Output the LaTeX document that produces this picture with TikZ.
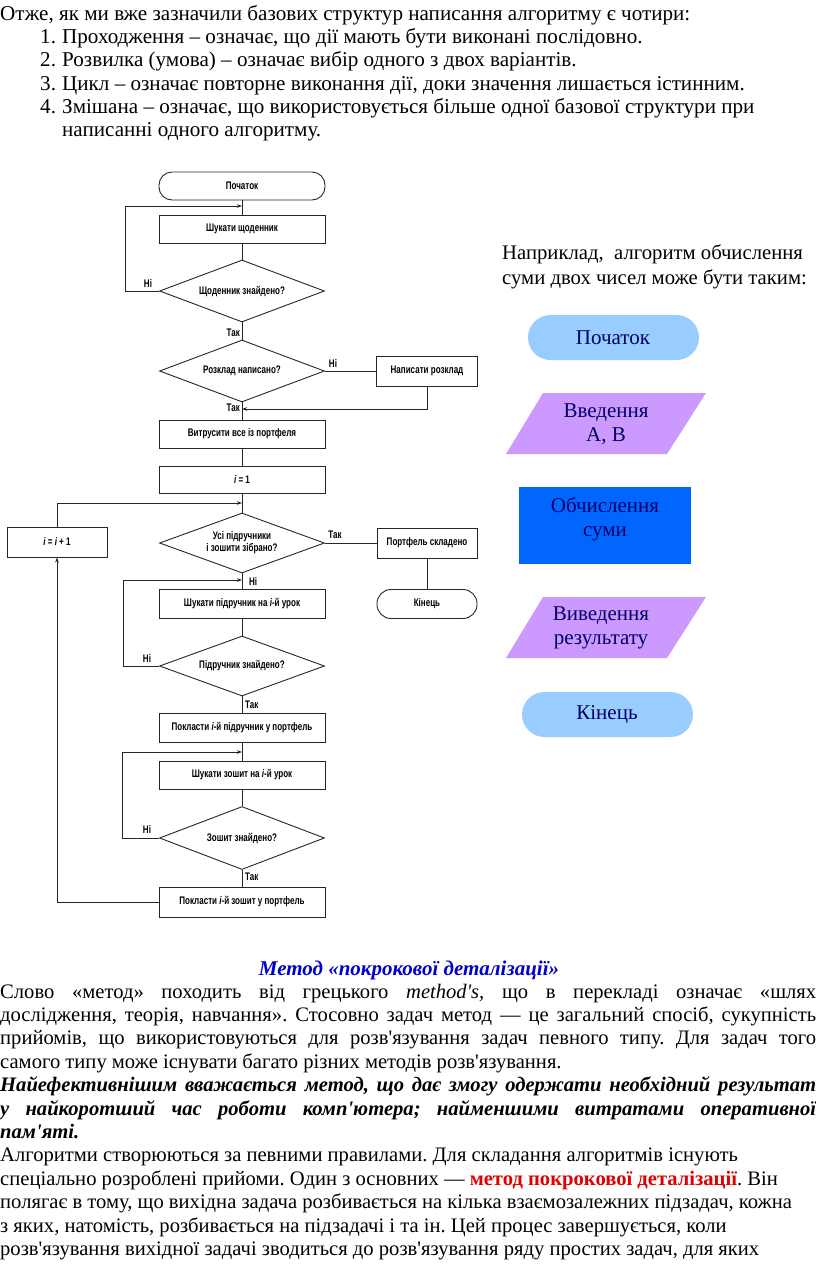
\documentclass[tikz,border=0pt]{standalone}
\usepackage{fontspec}
\setmainfont{Liberation Serif}[Ligatures=TeXOff]
\newfontfamily\fcf[FakeStretch=0.73]{Liberation Sans}
\usetikzlibrary{shapes.geometric,arrows.meta}
\definecolor{pill}{HTML}{99CCFF}
\definecolor{lilac}{HTML}{CC99FF}
\definecolor{bluebox}{HTML}{0066FF}
\definecolor{navy}{HTML}{000066}
\definecolor{titleblue}{HTML}{0000CC}
\definecolor{redtxt}{HTML}{E00000}
\frenchspacing
\tikzset{
  fc/.style={font=\fcf\bfseries\fontsize{11}{12}\selectfont},
  proc/.style={fc, draw=black!85, rectangle, minimum width=166pt, minimum height=28pt, inner sep=1pt, line width=0.9pt},
  term/.style={proc, rounded corners=13pt},
  dec/.style={fc, draw=black!85, diamond, aspect=2.66, minimum width=165pt, minimum height=62pt, inner sep=0pt, align=center, line width=0.9pt},
  ln/.style={line width=0.9pt, draw=black!85},
  arr/.style={ln, -{Stealth[length=5pt,width=3.5pt]}},
  lab/.style={fc, inner sep=1pt},
  body/.style={font=\fontsize{20.6}{23.3}\selectfont, anchor=base west, inner sep=0pt},
  topt/.style={font=\fontsize{21.1}{23.3}\selectfont, anchor=base west, inner sep=0pt},
  rtxt/.style={font=\fontsize{21}{24.5}\selectfont, text=navy, align=center, inner sep=0pt},
}
\begin{document}
\begin{tikzpicture}[x=1pt,y=-1pt]
\useasboundingbox (0,0) rectangle (816,1270);
\fill[white] (0,0) rectangle (816,1270);

% ---------- top text ----------
\node[topt] (h0) at (0,20) {Отже, як ми вже зазначили базових структур написання алгоритму є чотири:};
\node[topt] (n1) at (40,43.3) {1.};
\node[topt] (l1) at (62,43.3) {Проходження – означає, що дії мають бути виконані послідовно.};
\node[topt] (n2) at (40,66.6) {2.};
\node[topt] (l2) at (62,66.6) {Розвилка (умова) – означає вибір одного з двох варіантів.};
\node[topt] (n3) at (40,90) {3.};
\node[topt] (l3) at (62,90) {Цикл – означає повторне виконання дії, доки значення лишається істинним.};
\node[topt] (n4) at (40,113.3) {4.};
\node[topt] (l4) at (62,113.3) {Змішана – означає, що використовується більше одної базової структури при};
\node[topt] (l5) at (62,136.6) {написанні одного алгоритму.};

% ---------- left flowchart ----------
\node[term] (start) at (242,186) {Початок};
\node[proc] (s1) at (242,229) {Шукати щоденник};
\node[dec] (d1) at (242,291) {Щоденник знайдено?};
\node[dec] (d2) at (242,371) {Розклад написано?};
\node[proc, minimum width=101pt, minimum height=30pt] (wr) at (427,371) {Написати розклад};
\node[proc] (empty) at (242,434) {Витрусити все із портфеля};
\node[proc, minimum height=27pt] (i1) at (242,480) {{\itshape i} = 1};
\node[proc, minimum width=100pt, minimum height=30pt] (inc) at (57,542) {{\itshape i} = {\itshape i} + 1};
\node[dec, minimum height=60pt] (d3) at (242,543) {Усі підручники\\і зошити зібрано?};
\node[proc, minimum width=100pt, minimum height=30pt] (port) at (427,543) {Портфель складено};
\node[term, minimum width=100pt, minimum height=29pt, rounded corners=14pt] (fin) at (427,604) {Кінець};
\node[proc, minimum height=29pt] (s2) at (242,604) {Шукати підручник на {\itshape i}-й урок};
\node[dec, minimum height=60pt] (d4) at (242,666) {Підручник знайдено?};
\node[proc, minimum height=29pt] (put1) at (242,728) {Покласти {\itshape i}-й підручник у портфель};
\node[proc] (s3) at (242,775) {Шукати зошит на {\itshape i}-й урок};
\node[dec, minimum height=63pt] (d5) at (242,838) {Зошит знайдено?};
\node[proc, minimum height=30pt] (put2) at (242,902) {Покласти {\itshape i}-й зошит у портфель};

\coordinate (j1) at (242,206);
\coordinate (j2) at (242,409);
\coordinate (j3) at (242,503);
\coordinate (j4) at (242,580);
\coordinate (j5) at (242,752);
\coordinate (c1) at (125,291);
\coordinate (c4) at (123,666);
\coordinate (c5) at (122,838);

\draw[ln] (start) -- (s1);
\draw[ln] (s1) -- (d1);
\draw[ln] (d1) -- (d2);
\draw[ln] (d2) -- (empty);
\draw[ln] (empty) -- (i1);
\draw[ln] (i1) -- (d3);
\draw[ln] (d3) -- (s2);
\draw[ln] (s2) -- (d4);
\draw[ln] (d4) -- (put1);
\draw[ln] (put1) -- (s3);
\draw[ln] (s3) -- (d5);
\draw[ln] (d5) -- (put2);
\draw[ln] (d2.east) -- (wr.west);
\draw[ln] (d3.east) -- (port.west);
\draw[ln] (port) -- (fin);

\draw[arr] (d1.west) -- (c1) |- (j1);
\draw[arr] (wr.south) |- (j2);
\draw[arr] (inc.north) |- (j3);
\draw[arr] (d4.west) -- (c4) |- (j4);
\draw[arr] (d5.west) -- (c5) |- (j5);
\draw[arr] (put2.west) -| (inc.south);

\node[lab, anchor=south] (n1l) at (148,289) {Ні};
\node[lab, anchor=east] (t1l) at (241,333) {Так};
\node[lab, anchor=south] (n2l) at (333,369) {Ні};
\node[lab, anchor=east] (t2l) at (241,408) {Так};
\node[lab, anchor=south] (t3l) at (335,540) {Так};
\node[lab, anchor=west] (n3l) at (248,582) {Ні};
\node[lab, anchor=south] (n4l) at (147,664) {Ні};
\node[lab, anchor=west] (t4l) at (244,705) {Так};
\node[lab, anchor=south] (n5l) at (147,835) {Ні};
\node[lab, anchor=west] (t5l) at (244,877) {Так};

% ---------- right example ----------
\node[font=\fontsize{20.7}{24}\selectfont, anchor=base west, inner sep=0pt] (ex1) at (502,259) {Наприклад,\ \ алгоритм обчислення};
\node[font=\fontsize{20.7}{24}\selectfont, anchor=base west, inner sep=0pt] (ex2) at (502,284) {суми двох чисел може бути таким:};

\fill[pill, rounded corners=22.5pt] (528,315) rectangle (699,360);
\node[rtxt] (rs) at (613,338) {Початок};
\fill[lilac] (543,393) -- (706,393) -- (667,454) -- (506,454) -- cycle;
\node[rtxt] (rin) at (606,424) {Введення\\А, В};
\fill[bluebox] (519,487) rectangle (691,564);
\node[rtxt] (rc) at (605,519) {Обчислення\\суми};
\fill[lilac] (543,597) -- (706,597) -- (667,658) -- (506,658) -- cycle;
\node[rtxt] (rout) at (601,628) {Виведення\\результату};
\fill[pill, rounded corners=22.5pt] (522,692) rectangle (693,737);
\node[rtxt] (re) at (607,715) {Кінець};

% ---------- bottom text ----------
\node[font=\fontsize{21}{23.3}\selectfont\bfseries\itshape, text=titleblue, anchor=base, inner sep=0pt] (title) at (409,975) {Метод «покрокової деталізації»};
\node[body] (b1) at (0,998) {\makebox[816pt][s]{Слово «метод» походить від грецького \textit{method's,} що в перекладі означає «шлях}};
\node[body] (b2) at (0,1021.4) {\makebox[816pt][s]{дослідження, теорія, навчання». Стосовно задач метод — це загальний спосіб, сукупність}};
\node[body] (b3) at (0,1044.8) {\makebox[816pt][s]{прийомів, що використовуються для розв'язування задач певного типу. Для задач того}};
\node[body] (b4) at (0,1068.2) {самого типу може існувати багато різних методів розв'язування.};
\node[body, font=\fontsize{20.6}{23.3}\selectfont\bfseries\itshape] (b5) at (0,1091.6) {\makebox[816pt][s]{Найефективнішим вважається метод, що дає змогу одержати необхідний результат}};
\node[body, font=\fontsize{20.6}{23.3}\selectfont\bfseries\itshape] (b6) at (0,1115) {\makebox[816pt][s]{у найкоротший час роботи комп'ютера; найменшими витратами оперативної}};
\node[body, font=\fontsize{20.6}{23.3}\selectfont\bfseries\itshape] (b7) at (0,1138.4) {пам'яті.};
\node[body] (b8) at (0,1161.8) {Алгоритми створюються за певними правилами. Для складання алгоритмів існують};
\node[body] (b9) at (0,1185.2) {спеціально розроблені прийоми. Один з основних — \textcolor{redtxt}{\textbf{метод покрокової деталізації}}. Він};
\node[body] (b10) at (0,1208.6) {полягає в тому, що вихідна задача розбивається на кілька взаємозалежних підзадач, кожна};
\node[body] (b11) at (0,1232) {з яких, натомість, розбивається на підзадачі і та ін. Цей процес завершується, коли};
\node[body] (b12) at (0,1255.4) {розв'язування вихідної задачі зводиться до розв'язування ряду простих задач, для яких};
\end{tikzpicture}
\end{document}
